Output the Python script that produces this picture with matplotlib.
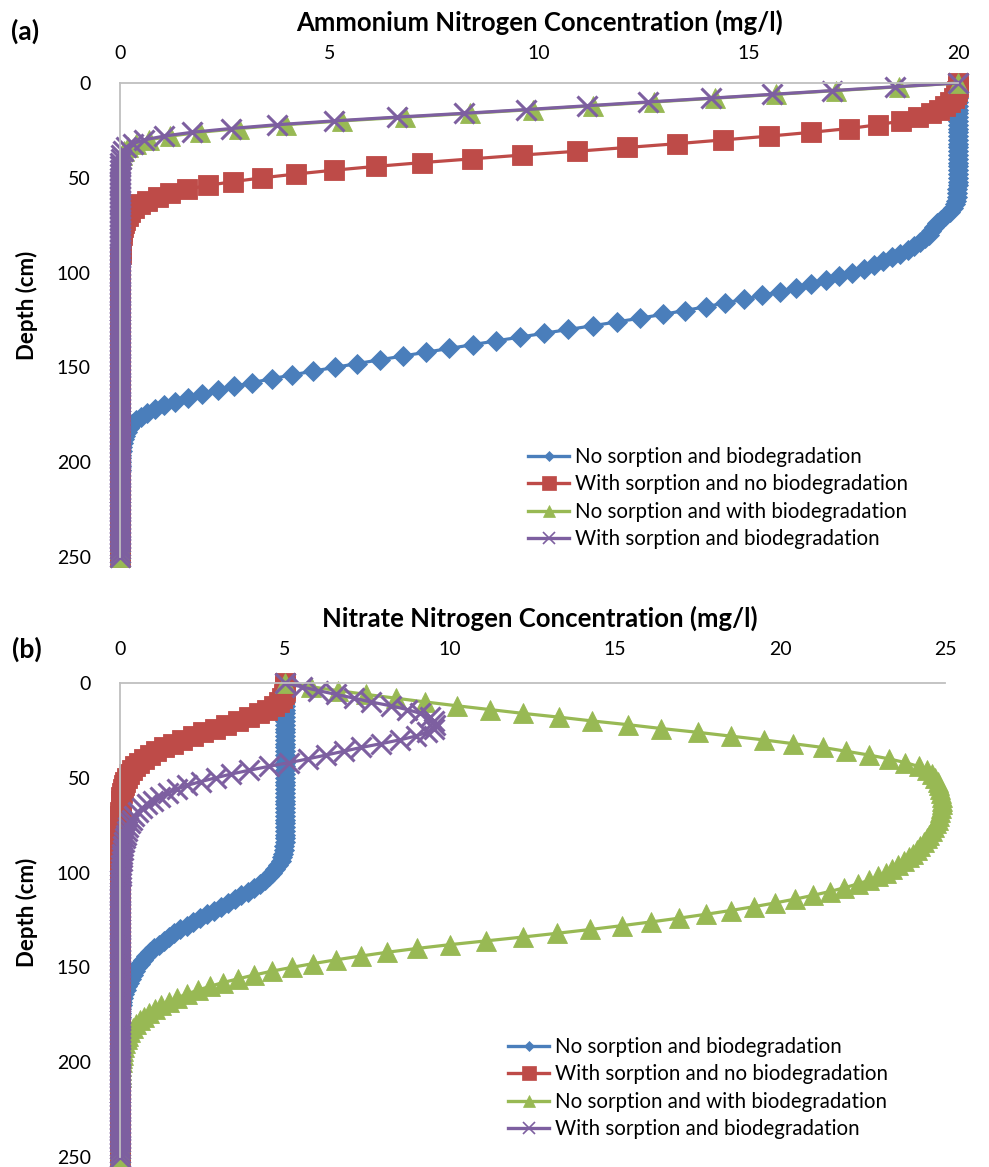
import numpy as np
import matplotlib.pyplot as plt
from matplotlib.lines import Line2D

plt.rcParams['font.family'] = ['Lato', 'DejaVu Sans']

# depth of the model nodes (cm)
depth_cm = [
    0, 2, 4, 6, 8, 10, 12, 14, 16, 18,
    20, 22, 24, 26, 28, 30, 32, 34, 36, 38,
    40, 42, 44, 46, 48, 50, 52, 54, 56, 58,
    60, 62, 64, 66, 68, 70, 72, 74, 76, 78,
    80, 82, 84, 86, 88, 90, 92, 94, 96, 98,
    100, 102, 104, 106, 108, 110, 112, 114, 116, 118,
    120, 122, 124, 126, 128, 130, 132, 134, 136, 138,
    140, 142, 144, 146, 148, 150, 152, 154, 156, 158,
    160, 162, 164, 166, 168, 170, 172, 174, 176, 178,
    180, 182, 184, 186, 188, 190, 192, 194, 196, 198,
    200, 202, 204, 206, 208, 210, 212, 214, 216, 218,
    220, 222, 224, 226, 228, 230, 232, 234, 236, 238,
    240, 242, 244, 246, 248, 250,
]

series_names = [
    'No sorption and biodegradation',
    'With sorption and no biodegradation',
    'No sorption and with biodegradation',
    'With sorption and biodegradation',
]

# (a) ammonium nitrogen (mg/l)
nh4_no_sorp_no_bio = [
    20, 20, 20, 20, 20, 20, 20, 20, 20, 20,
    20, 20, 20, 20, 20, 20, 20, 20, 20, 20,
    20, 20, 20, 20, 20, 20, 20, 19.99, 19.98, 19.97,
    19.97, 19.95, 19.92, 19.87, 19.8, 19.7, 19.6, 19.5, 19.42, 19.35,
    19.3, 19.22, 19.1, 18.95, 18.8, 18.62, 18.43, 18.22, 18.0, 17.75,
    17.47, 17.17, 16.85, 16.5, 16.13, 15.74, 15.33, 14.9, 14.45, 13.98,
    13.48, 12.96, 12.42, 11.86, 11.29, 10.7, 10.12, 9.55, 8.98, 8.42,
    7.86, 7.3, 6.75, 6.2, 5.66, 5.12, 4.6, 4.1, 3.62, 3.16,
    2.73, 2.33, 1.96, 1.62, 1.32, 1.06, 0.84, 0.65, 0.5, 0.38,
    0.29, 0.22, 0.16, 0.12, 0.09, 0.07, 0.05, 0.04, 0.03, 0.025,
    0.02, 0.016, 0.013, 0.01, 0.008, 0.006, 0.005, 0.004, 0.003, 0.002,
    0.002, 0.001, 0.001, 0, 0, 0, 0, 0, 0, 0,
    0, 0, 0, 0, 0, 0,
]
nh4_sorp_no_bio = [
    20, 19.99, 19.98, 19.95, 19.9, 19.82, 19.7, 19.55, 19.35, 19.05,
    18.65, 18.1, 17.4, 16.5, 15.5, 14.4, 13.3, 12.1, 10.9, 9.6,
    8.4, 7.2, 6.1, 5.1, 4.2, 3.4, 2.7, 2.1, 1.6, 1.2,
    0.9, 0.65, 0.47, 0.34, 0.25, 0.18, 0.13, 0.1, 0.07, 0.05,
    0.04, 0.035, 0.03, 0.025, 0.02, 0.015, 0.01, 0.008, 0.005, 0.003,
    0.002, 0.001, 0, 0, 0, 0, 0, 0, 0, 0,
    0, 0, 0, 0, 0, 0, 0, 0, 0, 0,
    0, 0, 0, 0, 0, 0, 0, 0, 0, 0,
    0, 0, 0, 0, 0, 0, 0, 0, 0, 0,
    0, 0, 0, 0, 0, 0, 0, 0, 0, 0,
    0, 0, 0, 0, 0, 0, 0, 0, 0, 0,
    0, 0, 0, 0, 0, 0, 0, 0, 0, 0,
    0, 0, 0, 0, 0, 0,
]
nh4_no_sorp_bio = [
    20, 18.6, 17.1, 15.65, 14.2, 12.75, 11.3, 9.85, 8.35, 6.8,
    5.3, 3.95, 2.85, 1.9, 1.2, 0.7, 0.38, 0.19, 0.09, 0.045,
    0.02, 0.01, 0.005, 0, 0, 0, 0, 0, 0, 0,
    0, 0, 0, 0, 0, 0, 0, 0, 0, 0,
    0, 0, 0, 0, 0, 0, 0, 0, 0, 0,
    0, 0, 0, 0, 0, 0, 0, 0, 0, 0,
    0, 0, 0, 0, 0, 0, 0, 0, 0, 0,
    0, 0, 0, 0, 0, 0, 0, 0, 0, 0,
    0, 0, 0, 0, 0, 0, 0, 0, 0, 0,
    0, 0, 0, 0, 0, 0, 0, 0, 0, 0,
    0, 0, 0, 0, 0, 0, 0, 0, 0, 0,
    0, 0, 0, 0, 0, 0, 0, 0, 0, 0,
    0, 0, 0, 0, 0, 0,
]
nh4_sorp_bio = [
    20, 18.5, 17.0, 15.55, 14.1, 12.6, 11.15, 9.7, 8.2, 6.6,
    5.1, 3.75, 2.65, 1.72, 1.05, 0.58, 0.3, 0.14, 0.07, 0.03,
    0.015, 0.007, 0.003, 0, 0, 0, 0, 0, 0, 0,
    0, 0, 0, 0, 0, 0, 0, 0, 0, 0,
    0, 0, 0, 0, 0, 0, 0, 0, 0, 0,
    0, 0, 0, 0, 0, 0, 0, 0, 0, 0,
    0, 0, 0, 0, 0, 0, 0, 0, 0, 0,
    0, 0, 0, 0, 0, 0, 0, 0, 0, 0,
    0, 0, 0, 0, 0, 0, 0, 0, 0, 0,
    0, 0, 0, 0, 0, 0, 0, 0, 0, 0,
    0, 0, 0, 0, 0, 0, 0, 0, 0, 0,
    0, 0, 0, 0, 0, 0, 0, 0, 0, 0,
    0, 0, 0, 0, 0, 0,
]

# (b) nitrate nitrogen (mg/l)
no3_no_sorp_no_bio = [
    5, 5, 5, 5, 5, 5, 5, 5, 5, 5,
    5, 5, 5, 5, 5, 5, 5, 5, 5, 5,
    5, 5, 5, 5, 5, 5, 5, 5, 5, 5,
    5, 5, 5, 5, 5, 5, 5, 5, 5, 5,
    5, 4.995, 4.99, 4.98, 4.97, 4.95, 4.92, 4.87, 4.8, 4.7,
    4.6, 4.5, 4.38, 4.24, 4.07, 3.88, 3.68, 3.47, 3.26, 3.05,
    2.84, 2.63, 2.42, 2.22, 2.02, 1.83, 1.65, 1.48, 1.32, 1.17,
    1.03, 0.9, 0.79, 0.69, 0.6, 0.52, 0.45, 0.38, 0.32, 0.26,
    0.21, 0.17, 0.13, 0.1, 0.075, 0.055, 0.04, 0.028, 0.02, 0.013,
    0.008, 0.005, 0.003, 0.002, 0.001, 0, 0, 0, 0, 0,
    0, 0, 0, 0, 0, 0, 0, 0, 0, 0,
    0, 0, 0, 0, 0, 0, 0, 0, 0, 0,
    0, 0, 0, 0, 0, 0,
]
no3_sorp_no_bio = [
    5, 5, 4.99, 4.97, 4.92, 4.82, 4.66, 4.45, 4.2, 3.9,
    3.57, 3.22, 2.87, 2.53, 2.2, 1.89, 1.6, 1.34, 1.1, 0.9,
    0.72, 0.57, 0.45, 0.35, 0.27, 0.2, 0.15, 0.11, 0.08, 0.06,
    0.045, 0.035, 0.025, 0.018, 0.012, 0.008, 0.006, 0.004, 0.003, 0.002,
    0, 0, 0, 0, 0, 0, 0, 0, 0, 0,
    0, 0, 0, 0, 0, 0, 0, 0, 0, 0,
    0, 0, 0, 0, 0, 0, 0, 0, 0, 0,
    0, 0, 0, 0, 0, 0, 0, 0, 0, 0,
    0, 0, 0, 0, 0, 0, 0, 0, 0, 0,
    0, 0, 0, 0, 0, 0, 0, 0, 0, 0,
    0, 0, 0, 0, 0, 0, 0, 0, 0, 0,
    0, 0, 0, 0, 0, 0, 0, 0, 0, 0,
    0, 0, 0, 0, 0, 0,
]
no3_no_sorp_bio = [
    5, 5.8, 6.6, 7.45, 8.35, 9.25, 10.2, 11.2, 12.2, 13.3,
    14.3, 15.4, 16.4, 17.5, 18.5, 19.5, 20.4, 21.3, 22.0, 22.7,
    23.3, 23.8, 24.2, 24.45, 24.6, 24.7, 24.78, 24.83, 24.86, 24.88,
    24.9, 24.9, 24.9, 24.88, 24.86, 24.83, 24.79, 24.74, 24.68, 24.6,
    24.52, 24.44, 24.35, 24.25, 24.15, 24.03, 23.9, 23.75, 23.58, 23.4,
    23.2, 22.98, 22.7, 22.35, 21.95, 21.5, 21.0, 20.45, 19.85, 19.2,
    18.5, 17.75, 16.95, 16.1, 15.2, 14.25, 13.25, 12.2, 11.1, 10.0,
    9.0, 8.1, 7.3, 6.55, 5.85, 5.2, 4.6, 4.07, 3.58, 3.12,
    2.72, 2.36, 2.03, 1.74, 1.48, 1.25, 1.05, 0.88, 0.73, 0.6,
    0.49, 0.39, 0.31, 0.25, 0.2, 0.16, 0.13, 0.1, 0.08, 0.065,
    0.05, 0.04, 0.03, 0.025, 0.02, 0.015, 0.01, 0.008, 0.006, 0.004,
    0.003, 0.002, 0.001, 0, 0, 0, 0, 0, 0, 0,
    0, 0, 0, 0, 0, 0,
]
no3_sorp_bio = [
    5, 5.5, 6.0, 6.55, 7.1, 7.6, 8.2, 8.7, 9.1, 9.38,
    9.5, 9.55, 9.5, 9.3, 8.96, 8.48, 7.91, 7.31, 6.78, 6.24,
    5.7, 5.13, 4.5, 3.92, 3.37, 2.9, 2.45, 2.03, 1.72, 1.46,
    1.2, 1.0, 0.82, 0.66, 0.54, 0.43, 0.35, 0.29, 0.24, 0.2,
    0.17, 0.145, 0.12, 0.1, 0.085, 0.07, 0.058, 0.047, 0.038, 0.03,
    0.024, 0.019, 0.015, 0.012, 0.009, 0.007, 0.005, 0.004, 0.003, 0.002,
    0, 0, 0, 0, 0, 0, 0, 0, 0, 0,
    0, 0, 0, 0, 0, 0, 0, 0, 0, 0,
    0, 0, 0, 0, 0, 0, 0, 0, 0, 0,
    0, 0, 0, 0, 0, 0, 0, 0, 0, 0,
    0, 0, 0, 0, 0, 0, 0, 0, 0, 0,
    0, 0, 0, 0, 0, 0, 0, 0, 0, 0,
    0, 0, 0, 0, 0, 0,
]

colors = ['#4A7EBB', '#BE4B48', '#98B954', '#7D5FA0']
markers = ['D', 's', '^', 'x']
plot_sizes = [10.5, 14, 15, 15]
legend_sizes = [5, 10, 9, 9]

W, H = 989, 1167


def draw_panel(ax, series, xmax, xticks, label_pad_x):
    for vals, c, m, ms in zip(series, colors, markers, plot_sizes):
        ax.plot(vals, depth_cm, color=c, lw=2.3, marker=m, ms=ms,
                mec=c, mfc=c, mew=2.2 if m == 'x' else 0.6, clip_on=False)
    ax.set_xlim(0, xmax)
    ax.set_ylim(250, 0)
    ax.xaxis.tick_top()
    ax.set_xticks(xticks)
    ax.set_yticks([0, 50, 100, 150, 200, 250])
    ax.tick_params(axis='x', length=0, labelsize=14, pad=label_pad_x)
    ax.tick_params(axis='y', length=0, labelsize=14, pad=21)
    for s in ['right', 'bottom']:
        ax.spines[s].set_visible(False)
    for s in ['top', 'left']:
        ax.spines[s].set_color('#BFBFBF')
        ax.spines[s].set_linewidth(1.3)


def add_legend(ax, x_px, y_px):
    handles = [Line2D([], [], color=c, lw=2.4, marker=m, ms=ms, mec=c, mfc=c,
                      mew=1.2 if m == 'x' else 0.5)
               for c, m, ms in zip(colors, markers, legend_sizes)]
    ax.legend(handles, series_names, loc='upper left',
              bbox_to_anchor=(x_px / W, 1 - y_px / H),
              bbox_transform=ax.figure.transFigure, frameon=False,
              fontsize=14.8, borderpad=0, borderaxespad=0,
              handlelength=2.0, handletextpad=0.3, labelspacing=0.36)


fig = plt.figure(figsize=(W / 100, H / 100), dpi=100)

ax_a = fig.add_axes([120 / W, 1 - 557 / H, 838 / W, 474 / H])
draw_panel(ax_a, [nh4_no_sorp_no_bio, nh4_sorp_no_bio, nh4_no_sorp_bio, nh4_sorp_bio],
           20, [0, 5, 10, 15, 20], 15)
add_legend(ax_a, 528, 447)

ax_b = fig.add_axes([120 / W, 1 - 1157 / H, 825 / W, 474 / H])
draw_panel(ax_b, [no3_no_sorp_no_bio, no3_sorp_no_bio, no3_no_sorp_bio, no3_sorp_bio],
           25, [0, 5, 10, 15, 20, 25], 18)
add_legend(ax_b, 508, 1037)

# titles and labels
fig.text(540 / W, 1 - 22 / H, 'Ammonium Nitrogen Concentration (mg/l)',
         ha='center', va='center', fontsize=18.5, fontweight='bold')
fig.text(540 / W, 1 - 618 / H, 'Nitrate Nitrogen Concentration (mg/l)',
         ha='center', va='center', fontsize=18.5, fontweight='bold')
fig.text(27 / W, 1 - 305 / H, 'Depth (cm)', rotation=90,
         ha='center', va='center', fontsize=16, fontweight='bold')
fig.text(27 / W, 1 - 912 / H, 'Depth (cm)', rotation=90,
         ha='center', va='center', fontsize=16, fontweight='bold')
fig.text(11 / W, 1 - 31 / H, '(a)', ha='left', va='center',
         fontsize=19, fontweight='bold')
fig.text(12 / W, 1 - 649 / H, '(b)', ha='left', va='center',
         fontsize=19, fontweight='bold')

fig.savefig('out.png', dpi=100)
